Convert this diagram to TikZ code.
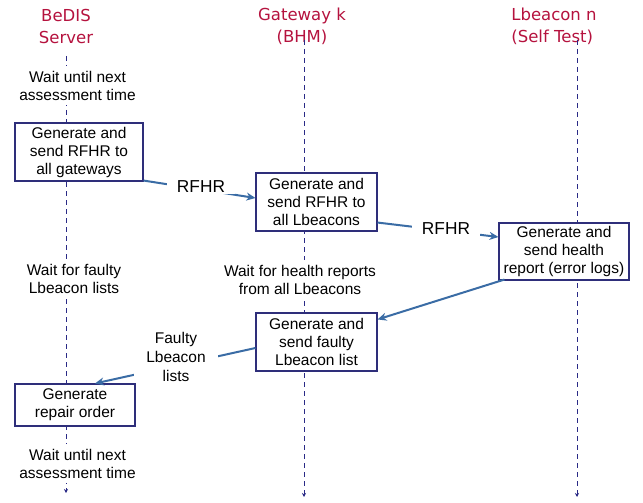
\documentclass[tikz,border=0pt]{standalone}
\usepackage{fontspec}
\setmainfont{Liberation Sans}
\newfontfamily\headfont{DejaVu Sans}
\usetikzlibrary{arrows.meta}
\definecolor{headred}{HTML}{B5123E}
\definecolor{lifenavy}{HTML}{2A2A86}
\definecolor{boxnavy}{HTML}{2E2E7A}
\definecolor{msgblue}{HTML}{3A6CA5}
\tikzset{
  header/.style={font=\headfont\fontsize{16.5}{22}\selectfont, text=headred, align=center, inner sep=0pt},
  lifeline/.style={draw=lifenavy, line width=1pt, dash pattern=on 5pt off 4pt, -{Stealth[length=4pt,width=4pt]}},
  stepbox/.style={draw=boxnavy, line width=1.1pt, fill=white, align=center, inner sep=0pt,
    font=\fontsize{15.5}{18}\selectfont},
  waittext/.style={fill=white, align=center, inner xsep=2pt, inner ysep=5pt,
    font=\fontsize{15.5}{18}\selectfont},
  msg/.style={draw=msgblue, line width=2pt, -{Stealth[length=9pt,width=8pt]}},
  msglabel/.style={fill=white, align=center, inner xsep=10pt, inner ysep=1pt,
    font=\fontsize{15.5}{19}\selectfont},
  bigmsglabel/.style={msglabel, font=\fontsize{17.3}{19}\selectfont}
}
\begin{document}
\begin{tikzpicture}[x=1pt,y=-1pt]
\useasboundingbox (0,0) rectangle (643,503);

% participants
\node[header] (hs) at (66,26) {BeDIS\\Server};
\node[header] (hg) at (302,26) {Gateway k\\(BHM)};
\node[header, align=left] (hl) at (554,26) {Lbeacon n\\(Self Test)};

% lifelines
\coordinate (s0) at (66,56);  \coordinate (s1) at (66,493);
\coordinate (g0) at (304,40); \coordinate (g1) at (304,497);
\coordinate (l0) at (577,40); \coordinate (l1) at (577,497);
\draw[lifeline] (s0) -- (s1);
\draw[lifeline] (g0) -- (g1);
\draw[lifeline] (l0) -- (l1);

% waiting phases
\node[waittext] (w1) at (77.5,85.5) {Wait until next\\assessment time};
\node[waittext] (w2) at (74,279) {Wait for faulty\\Lbeacon lists};
\node[waittext] (w3) at (300,280) {Wait for health reports\\from all Lbeacons};
\node[waittext] (w4) at (77.5,463.5) {Wait until next\\assessment time};

% actions
\node[stepbox, minimum width=128pt, minimum height=58pt] (b1) at (79,152)
  {Generate and\\send RFHR to\\all gateways};
\node[stepbox, minimum width=121pt, minimum height=58pt] (b2) at (316.5,202)
  {Generate and\\send RFHR to\\all Lbeacons};
\node[stepbox, minimum width=130pt, minimum height=57pt] (b3) at (564,251.5)
  {Generate and\\send health\\report (error logs)};
\node[stepbox, minimum width=121pt, minimum height=58pt] (b4) at (316.5,342)
  {Generate and\\send faulty\\Lbeacon list};
\node[stepbox, minimum width=120pt, minimum height=42pt] (b5) at (75,405)
  {Generate\\repair order};

% messages
\draw[msg] ([yshift=1pt]b1.south east) -- ([yshift=4pt]b2.west);
\node[bigmsglabel] (m1) at (201,187) {RFHR};
\draw[msg] ([yshift=9pt]b2.south east) -- ([yshift=14.5pt]b3.west);
\node[bigmsglabel] (m2) at (446,229) {RFHR};
\draw[msg] ([xshift=6pt,yshift=1pt]b3.south west) -- ([yshift=-7pt]b4.north east);
\draw[msg] ([yshift=-6pt]b4.west) -- ([xshift=20pt]b5.north);
\node[msglabel, inner xsep=12pt] (m3) at (176,357) {Faulty\\Lbeacon\\lists};
\end{tikzpicture}
\end{document}
